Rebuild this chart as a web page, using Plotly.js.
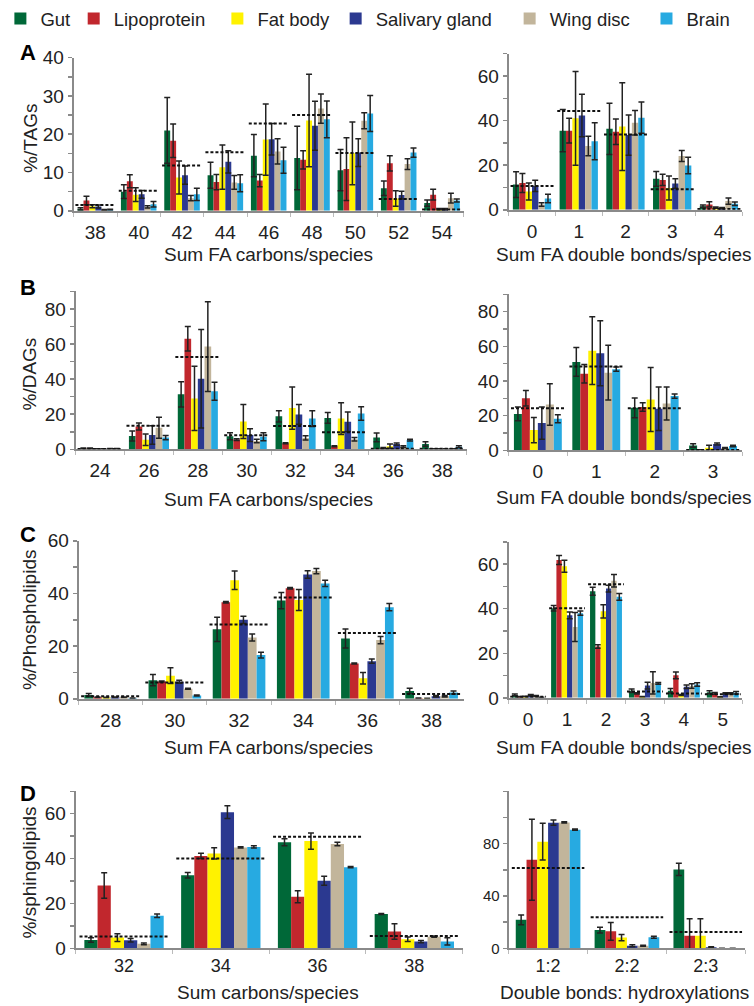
<!DOCTYPE html>
<html>
<head>
<meta charset="utf-8">
<script src="https://cdn.plot.ly/plotly-3.0.1.min.js"></script>
<style>
  html, body { margin: 0; padding: 0; background: #fff; }
  #chart { width: 754px; height: 1006px; }
</style>
</head>
<body>
<div id="chart"></div>
<script>
// ---------------- DATA ----------------
const seriesNames = ['Gut', 'Lipoprotein', 'Fat body', 'Salivary gland', 'Wing disc', 'Brain'];

// A: TAGs by carbons (rows = series in seriesNames order)
const tagCarbCats = ['38', '40', '42', '44', '46', '48', '50', '52', '54'];
const tagCarbVals = [
  [0.5, 5.0, 21.0, 9.3, 14.4, 13.8, 10.6, 5.9, 2.0],
  [2.7, 7.7, 18.3, 7.5, 7.9, 13.3, 10.9, 12.4, 4.2],
  [1.2, 4.2, 8.7, 11.4, 18.6, 23.6, 15.0, 3.2, 0.4],
  [1.1, 4.3, 9.3, 12.8, 18.7, 22.2, 15.2, 4.1, 0.4],
  [0.2, 1.0, 3.3, 7.4, 15.5, 26.7, 23.5, 12.2, 3.3],
  [0.3, 1.7, 4.3, 7.2, 13.2, 23.9, 25.4, 15.2, 2.7]
];
const tagCarbErrs = [
  [0.3, 1.8, 8.6, 3.4, 5.5, 8.3, 5.4, 1.9, 0.8],
  [1.1, 1.7, 4.4, 2.0, 1.6, 2.4, 8.2, 2.0, 1.4],
  [0.4, 1.8, 4.3, 5.8, 9.3, 12.1, 8.2, 2.0, 0.2],
  [0.4, 1.0, 2.4, 2.9, 4.1, 6.4, 3.6, 1.0, 0.2],
  [0.1, 0.3, 0.7, 1.8, 3.3, 3.8, 2.1, 1.4, 1.3],
  [0.1, 0.7, 1.6, 2.2, 3.4, 4.8, 4.7, 1.2, 0.4]
];
const tagCarbMeans = [1.5, 5.2, 11.8, 15.3, 22.8, 25.0, 15.1, 3.1, 0.3];

// A: TAGs by double bonds
const tagDbCats = ['0', '1', '2', '3', '4'];
const tagDbVals = [
  [11.3, 35.5, 36.3, 13.9, 1.6],
  [12.0, 35.5, 35.0, 13.4, 2.4],
  [8.2, 41.0, 37.3, 9.8, 1.0],
  [10.7, 42.3, 33.5, 11.8, 0.7],
  [2.4, 28.6, 39.0, 24.1, 3.9],
  [5.1, 30.7, 41.3, 19.9, 2.7]
];
const tagDbErrs = [
  [5.8, 9.5, 11.5, 3.3, 0.5],
  [4.3, 5.5, 5.7, 2.5, 1.2],
  [3.8, 21.0, 19.7, 5.4, 0.3],
  [2.5, 9.5, 9.0, 2.1, 0.3],
  [0.8, 4.4, 5.5, 2.5, 1.4],
  [1.9, 8.3, 7.0, 3.7, 0.8]
];
const tagDbMeans = [10.7, 44.3, 33.8, 9.2, 0.3];

// B: DAGs by carbons
const dagCarbCats = ['24', '26', '28', '30', '32', '34', '36', '38'];
const dagCarbVals = [
  [0.5, 7.6, 31.3, 7.5, 18.8, 17.9, 6.8, 3.0],
  [0.6, 13.0, 63.0, 5.6, 3.5, 1.8, 0.8, 0.2],
  [0.3, 5.5, 29.0, 15.9, 23.5, 17.5, 1.8, 0.2],
  [0.3, 8.2, 40.2, 8.1, 19.9, 15.7, 3.0, 0.2],
  [0.4, 12.3, 58.5, 4.7, 6.5, 5.8, 1.5, 0.2],
  [0.4, 6.7, 33.1, 7.2, 17.5, 20.4, 5.3, 1.5]
];
const dagCarbErrs = [
  [0.2, 2.9, 7.2, 2.0, 3.2, 3.1, 2.5, 1.3],
  [0.2, 2.0, 7.0, 0.5, 0.3, 0.3, 0.2, 0.1],
  [0.1, 3.3, 18.3, 9.7, 12.0, 9.0, 1.2, 0.1],
  [0.1, 5.3, 28.0, 3.6, 5.6, 5.6, 0.6, 0.1],
  [0.1, 6.0, 25.5, 1.0, 1.2, 1.0, 0.5, 0.1],
  [0.1, 1.2, 5.1, 2.3, 4.5, 3.9, 0.5, 0.6]
];
const dagCarbMeans = [0.2, 13.5, 52.6, 8.0, 13.3, 9.7, 0.3, 0.3];

// B: DAGs by double bonds
const dagDbCats = ['0', '1', '2', '3'];
const dagDbVals = [
  [21.0, 51.0, 24.5, 2.8],
  [30.0, 44.2, 25.0, 0.2],
  [11.7, 57.5, 29.3, 1.5],
  [15.7, 56.0, 24.0, 3.7],
  [26.4, 44.8, 27.0, 1.3],
  [18.2, 46.8, 31.3, 2.5]
];
const dagDbErrs = [
  [4.0, 8.3, 5.7, 1.0],
  [4.5, 5.3, 2.5, 0.1],
  [7.3, 19.5, 18.5, 1.5],
  [9.3, 18.7, 12.5, 0.6],
  [12.0, 15.8, 9.5, 0.3],
  [2.3, 1.2, 1.2, 0.4]
];
const dagDbMeans = [24.3, 48.3, 24.3, 0.2];

// C: Phospholipids by carbons
const plCarbCats = ['28', '30', '32', '34', '36', '38'];
const plCarbVals = [
  [1.5, 7.1, 26.4, 37.3, 22.9, 3.0],
  [0.6, 6.6, 36.7, 42.0, 13.4, 0.2],
  [0.5, 8.8, 45.0, 37.5, 7.8, 0.1],
  [0.6, 6.5, 30.0, 47.2, 14.3, 1.0],
  [0.6, 3.8, 23.3, 48.5, 22.3, 1.0],
  [0.2, 1.3, 16.6, 43.8, 34.8, 2.4]
];
const plCarbErrs = [
  [0.5, 2.1, 4.6, 3.1, 3.6, 1.0],
  [0.1, 0.2, 0.3, 0.3, 0.2, 0.1],
  [0.1, 3.0, 3.5, 4.0, 2.2, 0.1],
  [0.1, 0.6, 1.4, 1.4, 0.8, 0.3],
  [0.1, 0.2, 1.3, 1.0, 1.4, 0.3],
  [0.1, 0.2, 1.1, 1.2, 1.4, 0.6]
];
const plCarbMeans = [1.0, 6.2, 28.2, 38.5, 25.0, 1.8];

// C: Phospholipids by double bonds
const plDbCats = ['0', '1', '2', '3', '4', '5'];
const plDbVals = [
  [1.3, 40.2, 47.8, 3.2, 3.2, 2.5],
  [0.5, 61.8, 23.0, 2.0, 10.1, 2.0],
  [0.6, 59.0, 38.8, 0.5, 1.3, 0.4],
  [1.2, 37.0, 49.0, 5.5, 5.0, 2.0],
  [0.8, 31.8, 52.5, 6.7, 5.3, 2.0],
  [0.2, 38.0, 45.3, 6.5, 6.0, 2.3]
];
const plDbErrs = [
  [0.4, 1.2, 1.8, 0.8, 1.0, 0.7],
  [0.1, 2.0, 0.8, 0.3, 1.5, 0.4],
  [0.1, 2.7, 3.0, 0.1, 0.2, 0.1],
  [0.3, 1.5, 1.5, 1.5, 0.8, 0.3],
  [0.2, 6.5, 2.8, 5.0, 1.0, 0.3],
  [0.1, 1.0, 1.5, 0.4, 0.8, 0.6]
];
const plDbMeans = [0.5, 40.2, 51.0, 2.8, 2.0, 1.6];

// D: Sphingolipids by carbons
const slCarbCats = ['32', '34', '36', '38'];
const slCarbVals = [
  [3.7, 32.6, 47.3, 15.3],
  [28.0, 41.2, 23.0, 7.5],
  [4.8, 42.3, 47.8, 4.1],
  [3.6, 60.7, 30.1, 3.0],
  [2.0, 45.0, 46.5, 5.2],
  [14.5, 45.2, 36.2, 3.1]
];
const slCarbErrs = [
  [1.0, 1.2, 1.6, 0.2],
  [5.7, 1.2, 2.7, 3.5],
  [1.7, 2.5, 3.6, 1.0],
  [0.8, 2.8, 2.0, 0.5],
  [0.4, 0.3, 0.8, 0.3],
  [0.8, 0.5, 0.3, 1.6]
];
const slCarbMeans = [5.3, 40.0, 49.7, 5.5];

// D: Sphingolipids by double bonds : hydroxylations
const slDbCats = ['1:2', '2:2', '2:3'];
const slDbVals = [
  [21.8, 14.0, 60.3],
  [67.7, 13.0, 9.6],
  [81.5, 8.2, 9.6],
  [96.0, 2.0, 0.8],
  [96.2, 2.0, 0.0],
  [90.7, 8.5, 0.0]
];
const slDbErrs = [
  [3.7, 2.2, 4.7],
  [31.0, 6.8, 13.0],
  [14.0, 2.4, 13.0],
  [2.0, 0.8, 0.5],
  [0.5, 0.4, 0.0],
  [0.5, 0.8, 0.0]
];
const slDbMeans = [61.4, 23.7, 12.4];

// y tick labels per panel
const tagCarbTicks = [0, 10, 20, 30, 40];
const tagDbTicks = [0, 20, 40, 60];
const dagTicks = [0, 20, 40, 60, 80];
const plCarbTicks = [0, 20, 40, 60];
const plDbTicks = [0, 20, 40, 60];
const slCarbTicks = [0, 20, 40, 60];
const slDbTicks = [0, 40, 80];

// ---------------- STYLE ----------------
const colors = ['#006838', '#c1272d', '#fff200', '#2b3990', '#c2b59b', '#27aae1'];
const W = 754, H = 1006;
const FONT = 'Liberation Sans, Arial, Helvetica, sans-serif';
const axisGray = '#8a8a8a';
const FS = 19;

const panels = [
  {cats: tagCarbCats, vals: tagCarbVals, errs: tagCarbErrs, means: tagCarbMeans, tv: tagCarbTicks, x: [58, 457], y: [52, 206], r: 40, mn: 5, fs: FS, xfs: FS, so: 3},
  {cats: tagDbCats, vals: tagDbVals, errs: tagDbErrs, means: tagDbMeans, tv: tagDbTicks, x: [503, 742], y: [48, 205], r: 70, mn: 10, fs: FS, xfs: FS, so: 3},
  {cats: dagCarbCats, vals: dagCarbVals, errs: dagCarbErrs, means: dagCarbMeans, tv: dagTicks, x: [60, 460], y: [287, 446], r: 90, mn: 10, fs: FS, xfs: FS, so: 3},
  {cats: dagDbCats, vals: dagDbVals, errs: dagDbErrs, means: dagDbMeans, tv: dagTicks, x: [503, 742], y: [290, 447], r: 90, mn: 10, fs: FS, xfs: FS, so: 3},
  {cats: plCarbCats, vals: plCarbVals, errs: plCarbErrs, means: plCarbMeans, tv: plCarbTicks, x: [63, 457], y: [538, 697], r: 60, mn: 10, fs: FS, xfs: FS, so: 3},
  {cats: plDbCats, vals: plDbVals, errs: plDbErrs, means: plDbMeans, tv: plDbTicks, x: [503, 742], y: [539, 696], r: 70, mn: 10, fs: FS, xfs: FS, so: 3},
  {cats: slCarbCats, vals: slCarbVals, errs: slCarbErrs, means: slCarbMeans, tv: slCarbTicks, x: [60, 456], y: [790, 948], r: 70, mn: 10, fs: FS, xfs: 18, so: 0},
  {cats: slDbCats, vals: slDbVals, errs: slDbErrs, means: slDbMeans, tv: slDbTicks, x: [503, 745], y: [790, 948], r: 120, mn: 20, fs: 15, xfs: 18, so: 0}
];

const data = [];
const layout = {
  width: W, height: H,
  margin: {l: 0, r: 0, t: 0, b: 0},
  paper_bgcolor: '#fff', plot_bgcolor: 'rgba(0,0,0,0)',
  font: {family: FONT, size: FS, color: '#222'},
  barmode: 'group', bargap: 0.18, bargroupgap: 0,
  showlegend: true,
  shapes: [], annotations: []
};

// one legend per series so that entries sit where the reference puts them
const legendTextStart = [27, 102, 249, 370, 548, 688];
seriesNames.forEach((nm, s) => {
  const key = s === 0 ? 'legend' : 'legend' + (s + 1);
  layout[key] = {
    orientation: 'h', x: (legendTextStart[s] - 44) / W, xanchor: 'left',
    y: 1 + 6 / H, yanchor: 'top',
    font: {family: FONT, size: 18.5, color: '#222'}, itemwidth: 30,
    bgcolor: 'rgba(0,0,0,0)', borderwidth: 0
  };
});

panels.forEach((p, i) => {
  const n = i + 1;
  const xa = n === 1 ? 'x' : 'x' + n;
  const ya = n === 1 ? 'y' : 'y' + n;
  p.vals.forEach((v, s) => {
    data.push({
      type: 'bar', name: seriesNames[s], x: p.cats, y: v,
      xaxis: xa, yaxis: ya,
      marker: {color: colors[s], line: {width: 0}},
      error_y: {type: 'data', array: p.errs[s], visible: true, color: '#222', thickness: 1.5, width: 3},
      legend: s === 0 ? 'legend' : 'legend' + (s + 1),
      legendgroup: seriesNames[s], showlegend: i === 0,
      hoverinfo: 'x+y+name'
    });
  });
  layout['xaxis' + (n === 1 ? '' : n)] = {
    type: 'category', anchor: ya,
    domain: [p.x[0] / W, p.x[1] / W],
    showline: true, linecolor: axisGray, linewidth: 2,
    ticks: 'outside', tickson: 'boundaries', ticklen: 4, tickcolor: '#bbb', tickwidth: 1,
    ticklabelstandoff: p.so,
    tickfont: {family: FONT, size: p.xfs, color: '#222'},
    showgrid: false, zeroline: false, fixedrange: true
  };
  layout['yaxis' + (n === 1 ? '' : n)] = {
    anchor: xa,
    domain: [1 - p.y[1] / H, 1 - p.y[0] / H],
    range: [0, p.r], tickmode: 'array', tickvals: p.tv,
    showline: true, linecolor: axisGray, linewidth: 2,
    ticks: 'outside', ticklen: 4, tickcolor: axisGray, tickwidth: 1.5,
    minor: {dtick: p.mn, tick0: 0, ticks: 'outside', ticklen: 4, tickcolor: axisGray, tickwidth: 1.5},
    tickfont: {family: FONT, size: p.fs, color: '#222'},
    showgrid: false, zeroline: false, fixedrange: true
  };
  p.means.forEach((m, k) => {
    layout.shapes.push({
      type: 'line', xref: xa, yref: ya,
      x0: k - 0.46, x1: k + 0.46, y0: m, y1: m,
      line: {color: '#111', width: 2, dash: '3px,2px'}
    });
  });
});

function ann(text, xp, yp, opts) {
  return Object.assign({
    text: text, xref: 'paper', yref: 'paper', x: xp / W, y: 1 - yp / H,
    xanchor: 'center', yanchor: 'middle', showarrow: false,
    font: {family: FONT, size: FS, color: '#222'}
  }, opts || {});
}
const xTitles = [
  ['Sum FA carbons/species', 257, 250], ['Sum FA double bonds/species', 621, 250],
  ['Sum FA carbons/species', 257, 496], ['Sum FA double bonds/species', 621, 494],
  ['Sum FA carbons/species', 257, 746], ['Sum FA double bonds/species', 621, 746],
  ['Sum carbons/species', 257, 992], ['Double bonds: hydroxylations', 622, 992]
];
xTitles.forEach(t => layout.annotations.push(ann(t[0], t[1], t[2])));
const yTitles = [['%/TAGs', 133], ['%/DAGs', 370], ['%/Phospholipids', 618], ['%/sphingolipids', 872]];
yTitles.forEach(t => layout.annotations.push(ann(t[0], 13, t[1], {textangle: -90})));
const letters = [['A', 47], ['B', 283], ['C', 532], ['D', 792]];
letters.forEach(t => layout.annotations.push(ann('<b>' + t[0] + '</b>', 11, t[1], {font: {family: FONT, size: 22, color: '#000'}})));

Plotly.newPlot('chart', data, layout, {displayModeBar: false, staticPlot: true});
</script>
</body>
</html>
